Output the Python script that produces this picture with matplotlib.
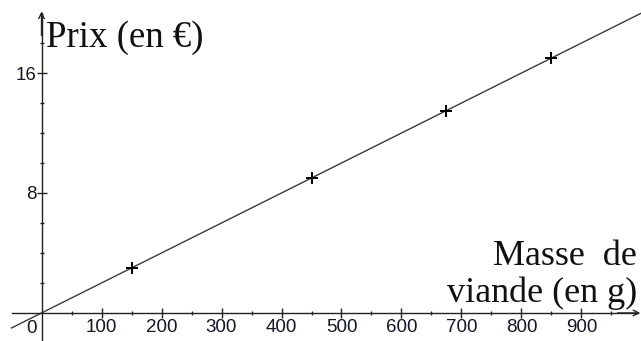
import matplotlib
matplotlib.use("Agg")
import matplotlib.pyplot as plt
import numpy as np

# Data: mass (g) and price (EUR)
masses = [150, 450, 675, 850]
prices = [3, 9, 13.5, 17]
line_mass = [-50, 1000]
unit_price = 0.02  # EUR per gram
line_price = [m * unit_price for m in line_mass]

x_major = [100, 200, 300, 400, 500, 600, 700, 800, 900]
x_minor = [50, 150, 250, 350, 450, 550, 650, 750, 850, 950]
y_major = [8, 16]
y_minor = [2, 4, 6, 10, 12, 14, 18]

fig = plt.figure(figsize=(6.41, 3.41), dpi=100)
ax = fig.add_axes([0, 0, 1, 1])
ax.set_xlim(-69.2, 999.2)
ax.set_ylim(-1.87, 20.87)

# Axes through the origin
for side in ["top", "right"]:
    ax.spines[side].set_visible(False)
ax.spines["left"].set_position(("data", 0))
ax.spines["bottom"].set_position(("data", 0))
ax.spines["left"].set_bounds(-1.87, 20.0)
ax.spines["bottom"].set_bounds(-50, 995)
for side in ["left", "bottom"]:
    ax.spines[side].set_linewidth(1.0)
    ax.spines[side].set_color("#222222")

ax.set_xticks(x_major)
ax.set_xticks(x_minor, minor=True)
ax.set_yticks(y_major)
ax.set_yticks(y_minor, minor=True)
ax.tick_params(which="major", direction="inout", length=6.5, width=1.0, color="#222222")
ax.tick_params(which="minor", direction="inout", length=3.4, width=1.0, color="#222222")
ax.tick_params(axis="x", which="major", pad=1.0)
ax.tick_params(axis="y", which="major", pad=0.5)
for lab in ax.get_xticklabels() + ax.get_yticklabels():
    lab.set_fontfamily("Liberation Sans")
    lab.set_fontsize(13.5)
    lab.set_color("#15152a")
ax.annotate("0", xy=(0, 0), xytext=(-3.5, -5), textcoords="offset points",
            ha="right", va="top", fontsize=13.5, family="Liberation Sans", color="#15152a")

# arrow heads
ax.annotate("", xy=(998, 0), xytext=(960, 0),
            arrowprops=dict(arrowstyle="->", lw=1.0, color="#222222", shrinkA=0, shrinkB=0,
                            mutation_scale=10))
ax.annotate("", xy=(0, 20.1), xytext=(0, 18.5),
            arrowprops=dict(arrowstyle="->", lw=1.0, color="#222222", shrinkA=0, shrinkB=0,
                            mutation_scale=10))

# proportional line and measured points
ax.plot(line_mass, line_price, color="#3a3a3a", lw=1.0)
ax.plot(masses, prices, linestyle="none", marker="+", markersize=9, mew=1.4, color="black")

# axis titles
ax.text(46 / 641, 1 - 47 / 341, "Prix (en €)", transform=ax.transAxes, ha="left",
        va="baseline", fontsize=26.5, family="Liberation Serif", color="#111111")
ax.text(637 / 641, 1 - 265 / 341, "Masse  de", transform=ax.transAxes, ha="right",
        va="baseline", fontsize=26, family="Liberation Serif", color="#111111")
ax.text(637 / 641, 1 - 302 / 341, "viande (en g)", transform=ax.transAxes, ha="right",
        va="baseline", fontsize=26, family="Liberation Serif", color="#111111")

fig.savefig("out.png", dpi=100)
